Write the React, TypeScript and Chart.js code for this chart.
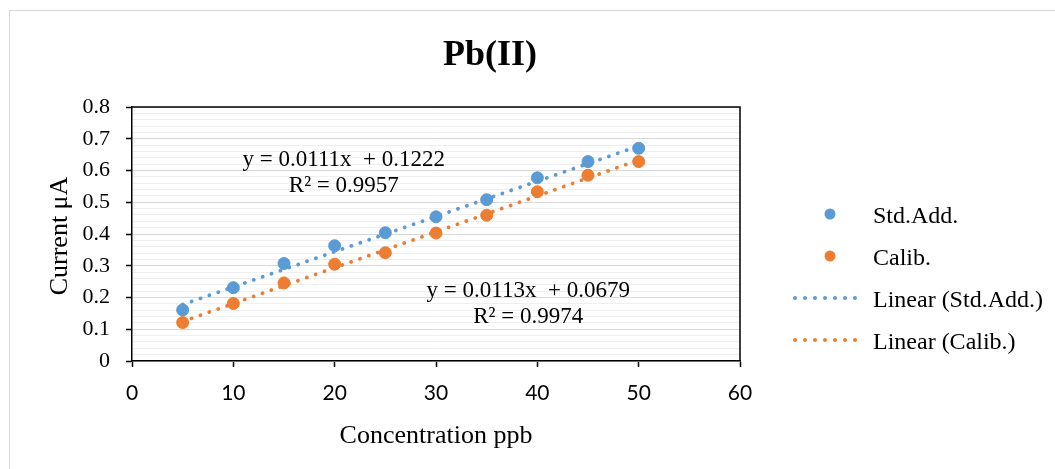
import React, { useEffect, useRef } from 'react';
import { Chart, registerables } from 'chart.js';

Chart.register(...registerables);

// ---- data ----
const concentrations = [5, 10, 15, 20, 25, 30, 35, 40, 45, 50];
const stdAddValues = [0.161, 0.231, 0.307, 0.363, 0.404, 0.454, 0.508, 0.577, 0.628, 0.670];
const calibValues = [0.121, 0.181, 0.246, 0.305, 0.341, 0.403, 0.459, 0.533, 0.585, 0.628];

const seriesNames = ['Std.Add.', 'Calib.'];
const trendNames = ['Linear (Std.Add.)', 'Linear (Calib.)'];

// linear fit coefficients shown on the chart: [slope, intercept, R²]
const stdAddFit = [0.0111, 0.1222, 0.9957];
const calibFit = [0.0113, 0.0679, 0.9974];
const fitRange = [5, 50];

const xTickLabels = ['0', '10', '20', '30', '40', '50', '60'];
const yTickLabels = ['0', '0.1', '0.2', '0.3', '0.4', '0.5', '0.6', '0.7', '0.8'];

// equation label anchors in data units: [x, y of equation line, y of R² line]
const stdAddLabelPos = [20.9, 0.614, 0.532];
const calibLabelPos = [39.1, 0.2016, 0.1197];

const BLUE = '#5B9BD5';
const ORANGE = '#ED7D31';
const SERIF = "'Liberation Serif', 'Times New Roman', serif";
const SANS = "Lato, 'Open Sans', sans-serif";

const isMajor = (v: number) => Math.abs(v * 10 - Math.round(v * 10)) < 1e-6;

const overlay = {
  id: 'overlay',
  beforeDraw(chart: any) {
    const ctx = chart.ctx;
    ctx.save();
    ctx.fillStyle = '#ffffff';
    ctx.fillRect(0, 0, chart.width, chart.height);
    ctx.strokeStyle = '#d9d9d9';
    ctx.lineWidth = 1;
    ctx.strokeRect(9.5, 10.5, chart.width + 20, chart.height + 20);
    ctx.restore();
  },
  afterDraw(chart: any) {
    const { ctx, chartArea: a, scales } = chart;
    const xs = scales.x;
    const ys = scales.y;
    ctx.save();
    // plot frame top/right
    ctx.strokeStyle = '#000';
    ctx.lineWidth = 1.5;
    ctx.beginPath();
    ctx.moveTo(a.left, a.top);
    ctx.lineTo(a.right, a.top);
    ctx.lineTo(a.right, a.bottom);
    ctx.stroke();

    ctx.fillStyle = '#000';
    ctx.textBaseline = 'alphabetic';
    ctx.textAlign = 'center';
    // title
    ctx.font = `bold 36px ${SERIF}`;
    ctx.fillText('Pb(II)', 490, 65);
    // axis titles
    ctx.font = `26px ${SERIF}`;
    ctx.fillText('Concentration ppb', (a.left + a.right) / 2, 443);
    ctx.save();
    ctx.translate(67, (a.top + a.bottom) / 2 + 2);
    ctx.rotate(-Math.PI / 2);
    ctx.fillText('Current μA', 0, 0);
    ctx.restore();

    // equations
    ctx.font = `23px ${SERIF}`;
    const eq = (fit: number[], pos: number[]) => {
      const x = xs.getPixelForValue(pos[0]);
      ctx.fillText(`y = ${fit[0].toFixed(4)}x  + ${fit[1].toFixed(4)}`, x, ys.getPixelForValue(pos[1]));
      ctx.fillText(`R² = ${fit[2].toFixed(4)}`, x, ys.getPixelForValue(pos[2]));
    };
    eq(stdAddFit, stdAddLabelPos);
    eq(calibFit, calibLabelPos);

    // legend
    const lx = 830;
    const tx = 873;
    const rows = [214, 256, 298, 340];
    ctx.font = `24px ${SERIF}`;
    ctx.textAlign = 'left';
    const labels = [seriesNames[0], seriesNames[1], trendNames[0], trendNames[1]];
    const colors = [BLUE, ORANGE, BLUE, ORANGE];
    rows.forEach((y, i) => {
      ctx.fillStyle = colors[i];
      if (i < 2) {
        ctx.beginPath();
        ctx.arc(lx, y, 5.5, 0, Math.PI * 2);
        ctx.fill();
      } else {
        for (let k = 0; k < 7; k++) {
          ctx.beginPath();
          ctx.arc(795 + k * 10, y, 2, 0, Math.PI * 2);
          ctx.fill();
        }
      }
      ctx.fillStyle = '#000';
      ctx.fillText(labels[i], tx, y + 9);
    });
    ctx.restore();
  },
};

export default function App() {
  const ref = useRef<HTMLCanvasElement | null>(null);

  useEffect(() => {
    if (!ref.current) return;
    const pts = (vals: number[]) => concentrations.map((x, i) => ({ x, y: vals[i] }));
    const fitLine = (fit: number[]) => fitRange.map((x) => ({ x, y: fit[0] * x + fit[1] }));

    const trendStyle = {
      showLine: true,
      pointRadius: 0,
      borderWidth: 3.8,
      borderDash: [0.1, 9.3],
      borderCapStyle: 'round',
      fill: false,
      order: 0,
    };

    const chart = new Chart(ref.current, {
      type: 'scatter',
      data: {
        datasets: [
          {
            label: seriesNames[0],
            data: pts(stdAddValues),
            backgroundColor: BLUE,
            borderColor: BLUE,
            pointRadius: 6,
            pointBorderWidth: 1,
            order: 1,
          },
          {
            label: seriesNames[1],
            data: pts(calibValues),
            backgroundColor: ORANGE,
            borderColor: ORANGE,
            pointRadius: 6,
            pointBorderWidth: 1,
            order: 1,
          },
          { label: trendNames[0], data: fitLine(stdAddFit), borderColor: BLUE, ...trendStyle } as any,
          { label: trendNames[1], data: fitLine(calibFit), borderColor: ORANGE, ...trendStyle } as any,
        ],
      },
      options: {
        responsive: false,
        maintainAspectRatio: false,
        devicePixelRatio: 1,
        animation: false,
        events: [],
        layout: { padding: { left: 0, top: 107, right: 315, bottom: 0 } },
        plugins: { legend: { display: false }, title: { display: false }, tooltip: { enabled: false } },
        scales: {
          x: {
            type: 'linear',
            min: 0,
            max: 60,
            afterFit: (s: any) => { s.height = 108; },
            border: { color: '#000', width: 1.5 },
            grid: { drawOnChartArea: false, drawTicks: true, tickLength: 6, tickColor: '#000', tickWidth: 1.5 },
            ticks: {
              stepSize: 10,
              padding: 14,
              color: '#000',
              font: { family: SANS, size: 21 },
              callback: (v: any) => xTickLabels[Math.round(Number(v) / 10)] ?? '',
            },
          },
          y: {
            type: 'linear',
            min: 0,
            max: 0.8,
            afterFit: (s: any) => { s.width = 132; },
            border: { color: '#000', width: 1.5 },
            grid: {
              color: (c: any) => (c.tick && isMajor(c.tick.value) ? '#d9d9d9' : '#efefef'),
              tickColor: (c: any) => (c.tick && isMajor(c.tick.value) ? '#000' : 'rgba(0,0,0,0)'),
              tickLength: 6,
              tickWidth: 1.5,
              lineWidth: 1,
            },
            ticks: {
              stepSize: 0.02,
              autoSkip: false,
              padding: 16,
              color: '#000',
              font: { family: SERIF, size: 22 },
              callback: (v: any) => (isMajor(Number(v)) ? yTickLabels[Math.round(Number(v) * 10)] : ''),
            },
          },
        },
      } as any,
      plugins: [overlay],
    });
    return () => chart.destroy();
  }, []);

  return (
    <div style={{ position: 'absolute', left: 0, top: 0, width: 1055, height: 469 }}>
      <canvas ref={ref} width={1055} height={469} style={{ display: 'block' }} />
    </div>
  );
}
